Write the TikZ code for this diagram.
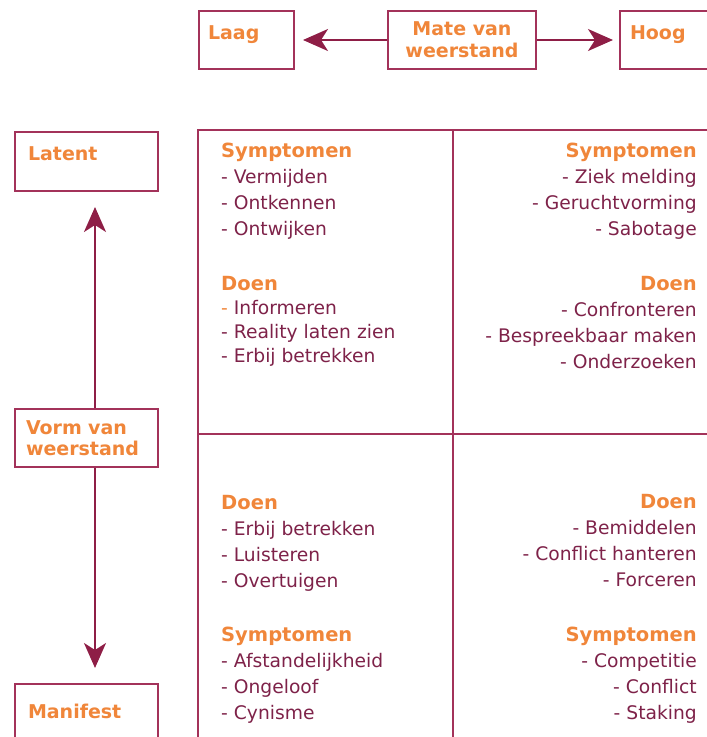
\documentclass[tikz,border=0pt]{standalone}
\usepackage{fontspec}
\setmainfont{DejaVu Sans}
\usetikzlibrary{positioning,arrows.meta}
\definecolor{rand}{HTML}{A3325A}
\definecolor{pijl}{HTML}{8E1E46}
\definecolor{tekst}{HTML}{7E2249}
\definecolor{oranje}{HTML}{F0863A}
\newcommand{\kopje}[1]{{\fontsize{19.5}{26}\selectfont\bfseries\color{oranje}#1}}

\begin{document}
\begin{tikzpicture}[x=1pt,y=-1pt,kader/.style={draw=rand,line width=2pt,fill=white,inner ysep=0pt,text=oranje,font=\fontsize{19}{22}\selectfont\bfseries}]
            \tikzstyle{lijst}=[inner sep=0pt,text=tekst,font=\fontsize{18.7}{26}\selectfont]
            \tikzstyle{bovenlinks}=[kader,anchor=north west,align=left,text height=28pt,text depth=30pt]
            \tikzstyle{pijlstijl}=[draw=pijl,line width=2pt,-{Stealth[length=25pt,width=22pt,inset=7pt]}]
            \useasboundingbox (0,0) rectangle (707,737);
            \clip (0,0) rectangle (707,737);
            % raster
            \draw[rand,line width=2pt] (198,130) rectangle (730,760);
            \draw[rand,line width=2pt] (453,130) -- (453,760);
            \draw[rand,line width=2pt] (198,434) -- (730,434);
            % mate van weerstand
            \node[bovenlinks,text width=77pt,inner xsep=9pt] (laag) at (198,10) {Laag};
            \node[kader,anchor=north west,align=center,inner xsep=0pt,minimum width=148pt,minimum height=58pt] (mate) at (387,10) {Mate van\\weerstand};
            \node[bovenlinks,text width=80pt,inner xsep=10pt] (hoog) at (619,10) {Hoog};
            \draw[pijlstijl,shorten >=8pt] (mate) -- (laag);
            \draw[pijlstijl,shorten >=6pt] (mate) -- (hoog);
            % vorm van weerstand
            \node[bovenlinks,text width=117pt,inner xsep=13pt,text depth=31pt] (latent) at (14,131) {Latent};
            \node[kader,anchor=north west,align=left,text width=121pt,inner xsep=11pt,minimum height=58pt,font=\fontsize{19}{21}\selectfont\bfseries] (vorm) at (14,408) {Vorm van\\weerstand};
            \node[kader,anchor=north west,align=left,text width=117pt,inner xsep=13pt,minimum height=59pt,text height=14pt,text depth=5pt] (manifest) at (14,683) {Manifest};
            \draw[pijlstijl,shorten >=15pt] ([xshift=8.5pt]vorm.north) -- ([xshift=8.5pt]latent.south);
            \draw[pijlstijl,shorten >=15pt] ([xshift=8.5pt]vorm.south) -- ([xshift=8.5pt]manifest.north);
            % cellen
            \node[lijst,anchor=north west,align=left] (symLB) at (221,143) {\kopje{Symptomen}\\- Vermijden\\- Ontkennen\\- Ontwijken};
            \node[lijst,anchor=north west,align=left,font=\fontsize{18.7}{24}\selectfont] (doenLB) at (221,276) {\kopje{Doen}\\{\color{oranje}-} Informeren\\- Reality laten zien\\- Erbij betrekken};
            \node[lijst,anchor=north east,align=right] (symRB) at (697,143) {\kopje{Symptomen}\\- Ziek melding\\- Geruchtvorming\\- Sabotage};
            \node[lijst,anchor=north east,align=right] (doenRB) at (697,276) {\kopje{Doen}\\- Confronteren\\- Bespreekbaar maken\\- Onderzoeken};
            \node[lijst,anchor=north west,align=left] (doenLO) at (221,495) {\kopje{Doen}\\- Erbij betrekken\\- Luisteren\\- Overtuigen};
            \node[lijst,anchor=north west,align=left] (symLO) at (221,627) {\kopje{Symptomen}\\- Afstandelijkheid\\- Ongeloof\\- Cynisme};
            \node[lijst,anchor=north east,align=right] (doenRO) at (697,494) {\kopje{Doen}\\- Bemiddelen\\- Conflict hanteren\\- Forceren};
            \node[lijst,anchor=north east,align=right] (symRO) at (697,627) {\kopje{Symptomen}\\- Competitie\\- Conflict\\- Staking};
          \end{tikzpicture}
\end{document}
